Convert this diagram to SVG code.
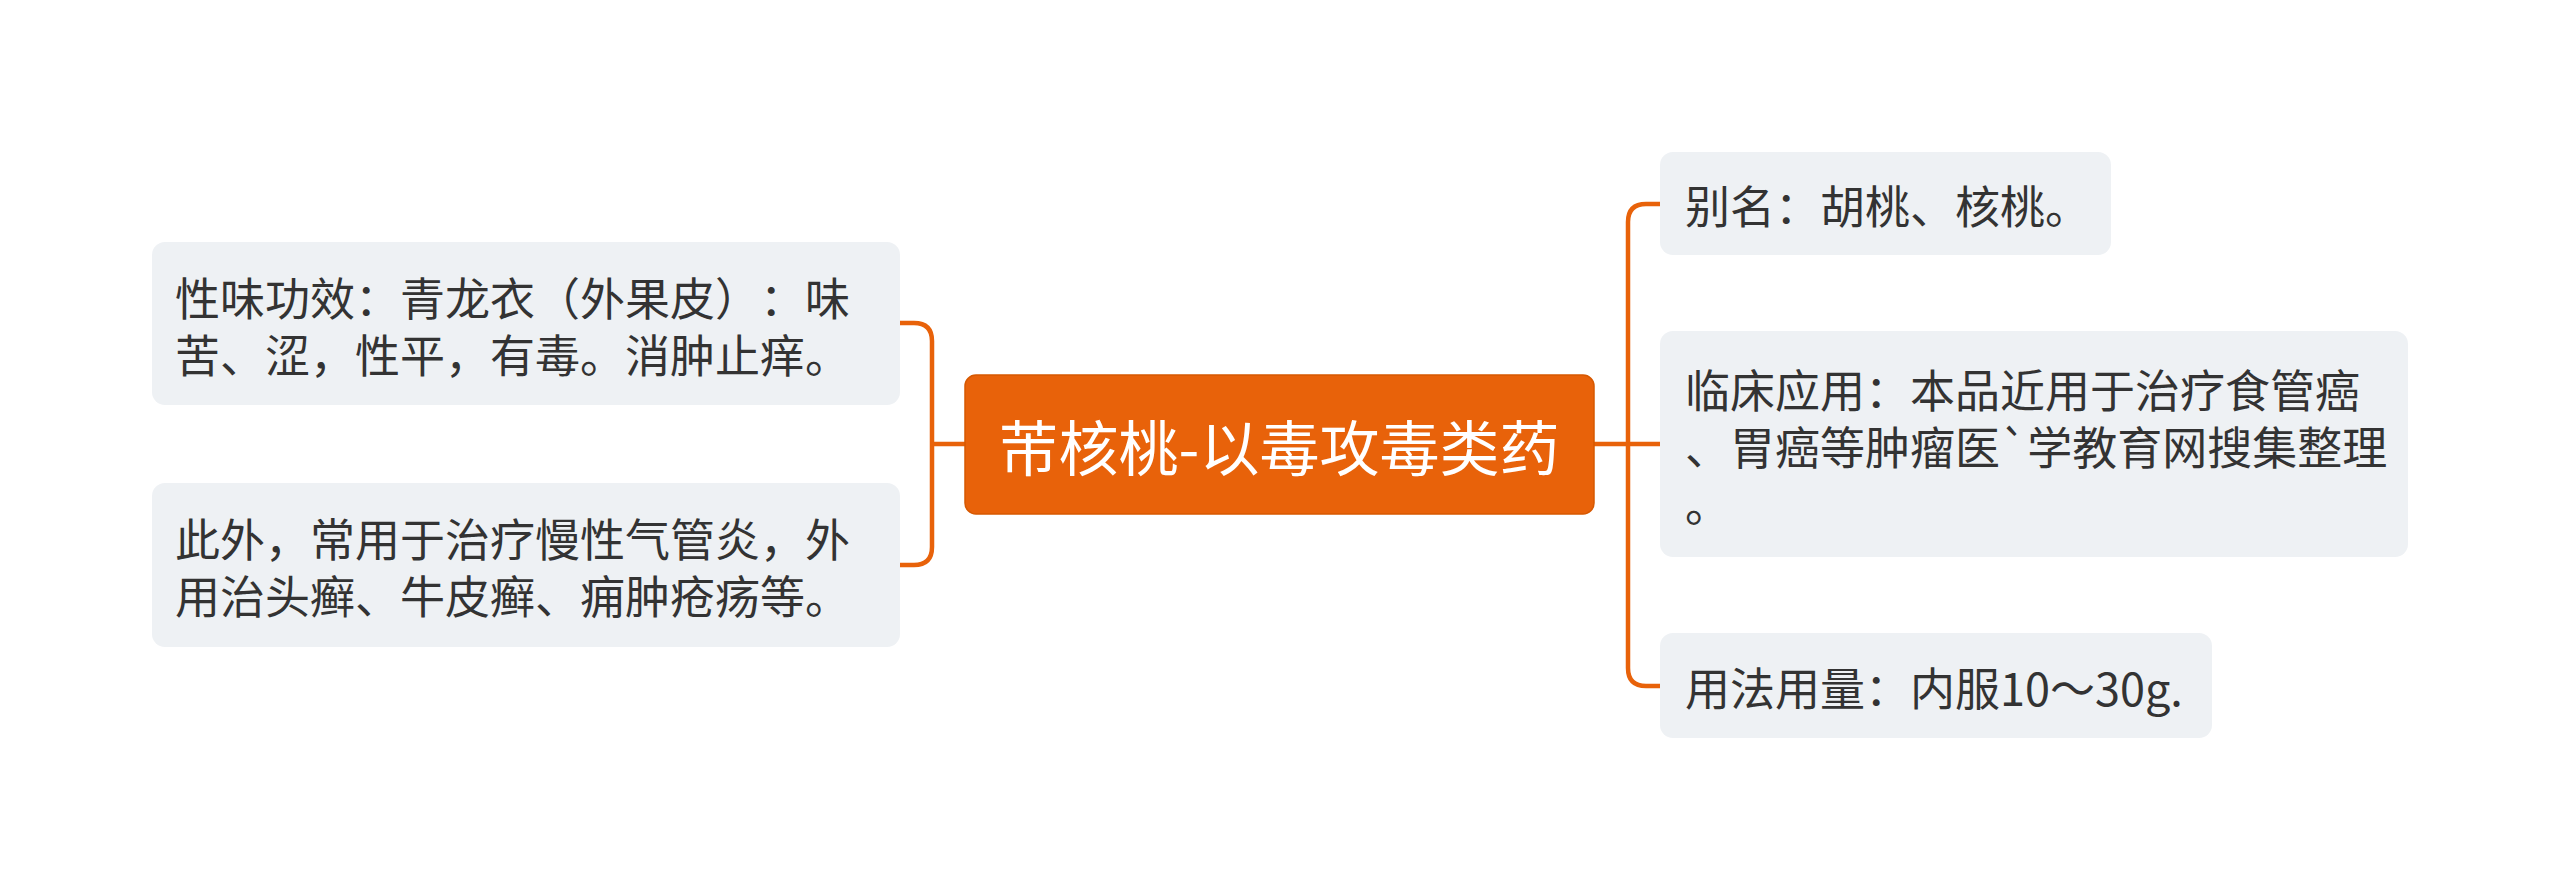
<svg xmlns="http://www.w3.org/2000/svg" width="2560" height="890" viewBox="0 0 2560 890">
<style>
.conn{fill:none;stroke:#E8620A;stroke-width:4.5;stroke-linecap:round;stroke-linejoin:round}
.box{fill:#EEF1F4}
.t{font-family:"Noto Sans CJK SC","Noto Sans",sans-serif;font-size:45px;fill:#333333;dominant-baseline:central;text-spacing-trim:space-all}
.ct{font-family:"Noto Sans CJK SC","Noto Sans",sans-serif;font-size:60px;fill:#FFFFFF;dominant-baseline:central;text-anchor:middle}
</style>
<rect x="0" y="0" width="2560" height="890" fill="#FFFFFF"/>
<g id="connectors">
<path class="conn" d="M965 444 H932 M900 323 H914 Q932 323 932 341 V547 Q932 565 914 565 H900"/>
<path class="conn" d="M1594 444 H1660 M1660 204 H1646 Q1628 204 1628 222 V668 Q1628 686 1646 686 H1660"/>
</g>
<g id="center">
<rect x="965" y="375" width="629" height="139" rx="11" fill="#E8620A" stroke="#D65800" stroke-width="1.5"/>
<text class="ct" x="1279" y="444">芾核桃-以毒攻毒类药</text>
</g>
<g id="left1">
<rect class="box" x="152" y="242" width="748" height="163" rx="13"/>
<text class="t" x="175" y="296"><tspan x="175" y="296">性味功效：青龙衣（外果皮）：味</tspan><tspan x="175" y="353">苦、涩，性平，有毒。消肿止痒。</tspan></text>
</g>
<g id="left2">
<rect class="box" x="152" y="483" width="748" height="164" rx="13"/>
<text class="t" x="175" y="537"><tspan x="175" y="537">此外，常用于治疗慢性气管炎，外</tspan><tspan x="175" y="594">用治头癣、牛皮癣、痈肿疮疡等。</tspan></text>
</g>
<g id="right1">
<rect class="box" x="1660" y="152" width="451" height="103" rx="13"/>
<text class="t" x="1685" y="204">别名：胡桃、核桃。</text>
</g>
<g id="right2">
<rect class="box" x="1660" y="331" width="748" height="226" rx="13"/>
<text class="t" x="1685" y="388"><tspan x="1685" y="388">临床应用：本品近用于治疗食管癌</tspan><tspan x="1685" y="445">、胃癌等肿瘤医`学教育网搜集整理</tspan><tspan x="1685" y="502">。</tspan></text>
</g>
<g id="right3">
<rect class="box" x="1660" y="633" width="552" height="105" rx="13"/>
<text class="t" x="1685" y="686">用法用量：内服10～30g.</text>
</g>
</svg>
